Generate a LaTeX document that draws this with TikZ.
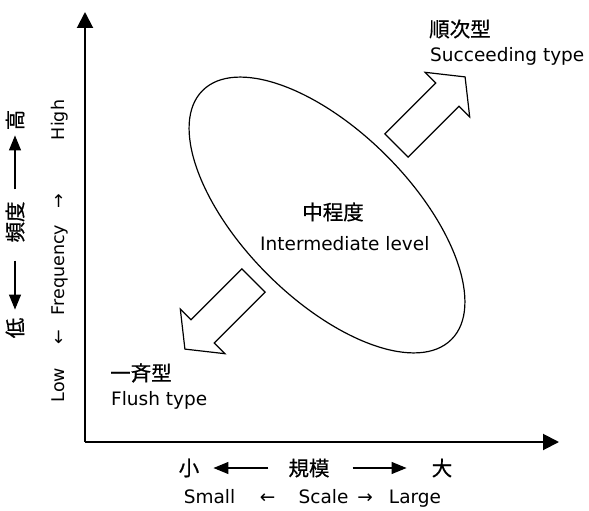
\documentclass[tikz,border=0pt]{standalone}
\usepackage{fontspec}
\setmainfont{DejaVu Sans}
\newfontfamily\jp[FakeBold=0.6]{Noto Sans CJK JP}
\usetikzlibrary{arrows.meta,shapes.geometric}
\begin{document}
\begin{tikzpicture}[x=1pt,y=-1pt,
  lat/.style={inner sep=0pt, font=\fontsize{18.5}{20}\selectfont},
  latv/.style={inner sep=0pt, font=\fontsize{17.5}{19}\selectfont, rotate=90, anchor=base},
  cjk/.style={inner sep=0pt, font=\jp\fontsize{20.5}{22}\selectfont},
  axisline/.style={line width=2pt, -{Triangle[length=16pt,width=16pt]}},
  thinarr/.style={line width=1.2pt, -{Triangle[length=15pt,width=12pt]}},
  blockarr/.style={draw, line width=1.2pt, fill=white, line join=miter},
  oval/.style={draw, ellipse, line width=1.2pt, inner sep=0pt, minimum width=352pt, minimum height=168pt, rotate=-45}]
\useasboundingbox (0,0) rectangle (589,511);

% axes
\coordinate (O) at (85,442);
\coordinate (ytop) at (85,12);
\coordinate (xend) at (559,442);
\draw[axisline] (O) -- (ytop);
\draw[axisline] (O) -- (xend);

% ellipse
\node[oval] (ell) at (327,215) {};
\node[cjk] (mid) at (333,212) {中程度};
\node[lat, anchor=base west] (midE) at (260,250) {Intermediate level};

% block arrows
\begin{scope}[shift={(396.5,145.5)}, rotate=45]
  \draw[blockarr] (0,16.5) -- (72,16.5) -- (72,31.5) -- (97,0) -- (72,-31.5) -- (72,-16.5) -- (0,-16.5) -- cycle;
\end{scope}
\begin{scope}[shift={(253.5,280.5)}, rotate=225]
  \draw[blockarr] (0,16.5) -- (72,16.5) -- (72,31.5) -- (97,0) -- (72,-31.5) -- (72,-16.5) -- (0,-16.5) -- cycle;
\end{scope}

% labels at arrows
\node[cjk, anchor=west] (seq) at (429,29) {順次型};
\node[lat, anchor=base west] (seqE) at (430,62) {Succeeding type};
\node[cjk, anchor=west] (flush) at (110,373) {一斉型};
\node[lat, anchor=base west] (flushE) at (111,405) {Flush type};

% vertical axis labels (Japanese)
\node[cjk, rotate=90] (kou) at (15,120) {高};
\node[cjk, rotate=90] (hindo) at (15,222) {頻度};
\node[cjk, rotate=90] (tei) at (15,328) {低};
\draw[thinarr, shorten <=12pt, shorten >=5pt] (hindo.east) -- (kou.west);
\draw[thinarr, shorten <=18pt, shorten >=8pt] (hindo.west) -- (tei.east);

% vertical axis labels (English)
\node[latv] (high) at (64,120) {High};
\node[latv] (ra) at (64,201) {→};
\node[latv] (freq) at (64,270) {Frequency};
\node[latv] (la) at (64,337) {←};
\node[latv] (low) at (64,385) {Low};

% horizontal axis labels (Japanese)
\node[cjk] (sho) at (189,468) {小};
\node[cjk] (kibo) at (309,468) {規模};
\node[cjk] (dai) at (442,468) {大};
\draw[thinarr, shorten <=20pt, shorten >=14pt] (kibo.west) -- (sho.east);
\draw[thinarr, shorten <=23pt, shorten >=25pt] (kibo.east) -- (dai.west);

% horizontal axis labels (English)
\node[lat, anchor=base] (small) at (209.5,503) {Small};
\node[lat, anchor=base] (hla) at (267.5,503) {←};
\node[lat, anchor=base] (scale) at (323.5,503) {Scale};
\node[lat, anchor=base] (hra) at (365,503) {→};
\node[lat, anchor=base] (large) at (415,503) {Large};
\end{tikzpicture}
\end{document}
